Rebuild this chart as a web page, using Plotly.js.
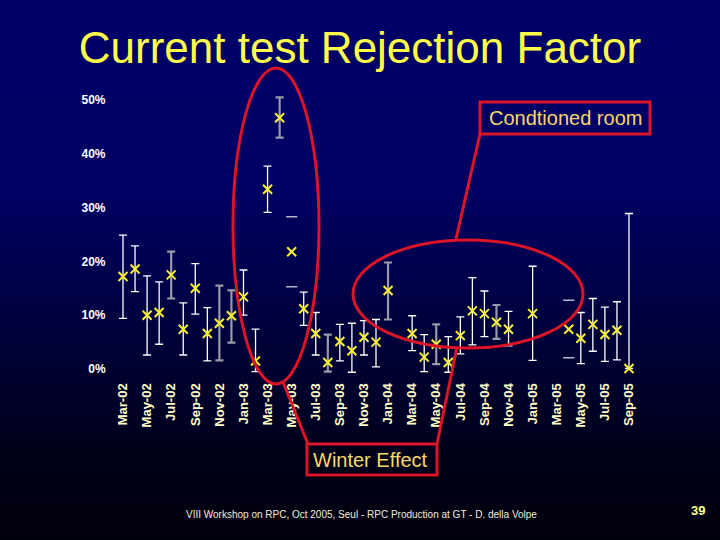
<!DOCTYPE html>
<html>
<head>
<meta charset="utf-8">
<script src="https://cdn.plot.ly/plotly-3.0.1.min.js"></script>
<style>
html, body { margin: 0; padding: 0; }
body {
  width: 720px; height: 540px; overflow: hidden;
  background: linear-gradient(to bottom, #000068 0%, #000064 35%, #00003a 62%, #000018 85%, #00000c 100%);
}
#chart { width: 720px; height: 540px; }
</style>
</head>
<body>
<div id="chart"></div>
<script>
// ---- Data ----
const allMonths = [
  "Mar-02","Apr-02","May-02","Jun-02","Jul-02","Aug-02","Sep-02","Oct-02","Nov-02","Dec-02",
  "Jan-03","Feb-03","Mar-03","Apr-03","May-03","Jun-03","Jul-03","Aug-03","Sep-03","Oct-03","Nov-03","Dec-03",
  "Jan-04","Feb-04","Mar-04","Apr-04","May-04","Jun-04","Jul-04","Aug-04","Sep-04","Oct-04","Nov-04","Dec-04",
  "Jan-05","Feb-05","Mar-05","Apr-05","May-05","Jun-05","Jul-05","Aug-05","Sep-05"
];
const tickLabels = [
  "Mar-02","May-02","Jul-02","Sep-02","Nov-02","Jan-03","Mar-03","May-03","Jul-03","Sep-03","Nov-03",
  "Jan-04","Mar-04","May-04","Jul-04","Sep-04","Nov-04","Jan-05","Mar-05","May-05","Jul-05","Sep-05"
];
const months = [
  "Mar-02","Apr-02","May-02","Jun-02","Jul-02","Aug-02","Sep-02","Oct-02","Nov-02","Dec-02",
  "Jan-03","Feb-03","Mar-03","Apr-03","May-03","Jun-03","Jul-03","Aug-03","Sep-03","Oct-03","Nov-03","Dec-03",
  "Jan-04","Mar-04","Apr-04","May-04","Jun-04","Jul-04","Aug-04","Sep-04","Oct-04","Nov-04",
  "Jan-05","Apr-05","May-05","Jun-05","Jul-05","Aug-05","Sep-05"
];
const rejection = [
  17.2,18.6,10.0,10.5,17.5,7.4,15.0,6.6,8.5,9.9,
  13.4,1.5,33.4,46.7,21.8,11.2,6.6,1.2,5.1,3.4,5.9,5.0,
  14.6,6.6,2.2,4.6,1.2,6.2,10.8,10.3,8.7,7.4,
  10.3,7.4,5.7,8.3,6.4,7.2,0.1
];
const upper = [
  24.9,22.9,17.3,16.2,21.8,12.3,19.6,11.4,15.5,14.6,
  18.4,7.4,37.7,50.5,28.3,14.3,10.5,6.4,8.3,8.5,9.0,9.2,
  19.8,9.9,6.4,8.3,6.0,9.7,17.0,14.5,11.9,10.7,
  19.1,12.8,10.5,13.1,11.5,12.5,28.9
];
const lower = [
  9.4,14.4,2.6,4.6,13.1,2.6,10.2,1.5,1.6,4.9,
  10.0,-0.5,29.1,43.0,15.3,8.1,2.6,-0.5,1.5,-0.6,2.6,0.4,
  9.2,3.4,-0.5,0.9,-0.6,2.8,4.5,6.0,5.6,4.3,
  1.6,2.1,1.0,3.3,1.4,1.7,0.1
];
const grayBarMonths = ["Jul-02","Nov-02","Dec-02","Apr-03","Aug-03","Jan-04","May-04","Oct-04"];
const capsOnlyMonths = ["May-03","Apr-05"];
const yTickVals = [0,10,20,30,40,50];
const yTickText = ["0%","10%","20%","30%","40%","50%"];

// ---- helpers ----
const W = 720, H = 540;
const px = x => x / W;
const py = y => 1 - y / H;

function subset(filterFn) {
  const x = [], y = [], ep = [], em = [];
  months.forEach((m, i) => {
    if (filterFn(m)) {
      x.push(m); y.push(rejection[i]);
      ep.push(upper[i] - rejection[i]); em.push(rejection[i] - lower[i]);
    }
  });
  return {x, y, ep, em};
}

const markerStyle = {symbol: 'x-thin-open', size: 9, color: '#f8f030', line: {color: '#f8f030', width: 2}};

const white = subset(m => !grayBarMonths.includes(m) && !capsOnlyMonths.includes(m));
const gray = subset(m => grayBarMonths.includes(m));
const capsOnly = subset(m => capsOnlyMonths.includes(m));

const capX = [], capY = [];
months.forEach((m, i) => {
  if (capsOnlyMonths.includes(m)) { capX.push(m, m); capY.push(upper[i], lower[i]); }
});

const traces = [
  {type: 'scatter', mode: 'markers', x: capX, y: capY, hoverinfo: 'skip',
   marker: {symbol: 'line-ew-open', size: 8, color: '#b8b8c8', line: {color: '#b8b8c8', width: 1.5}}},
  {type: 'scatter', mode: 'markers', x: white.x, y: white.y,
   error_y: {type: 'data', symmetric: false, array: white.ep, arrayminus: white.em, color: '#ffffff', thickness: 1.3, width: 4},
   marker: markerStyle},
  {type: 'scatter', mode: 'markers', x: gray.x, y: gray.y,
   error_y: {type: 'data', symmetric: false, array: gray.ep, arrayminus: gray.em, color: '#9a9aa8', thickness: 2.2, width: 4},
   marker: markerStyle},
  {type: 'scatter', mode: 'markers', x: capsOnly.x, y: capsOnly.y, marker: markerStyle}
];

const red = '#dc1428';
const layout = {
  width: W, height: H,
  margin: {l: 0, r: 0, t: 0, b: 0, autoexpand: false},
  paper_bgcolor: 'rgba(0,0,0,0)',
  plot_bgcolor: 'rgba(0,0,0,0)',
  showlegend: false,
  font: {family: 'Liberation Sans, Arial, sans-serif'},
  title: {
    text: 'Current test Rejection Factor',
    font: {family: 'Liberation Sans, Arial, sans-serif', size: 44, color: '#ffff4a'},
    x: 0.5, xanchor: 'center', xref: 'paper',
    y: py(48), yanchor: 'middle', yref: 'container'
  },
  xaxis: {
    type: 'category', categoryorder: 'array', categoryarray: allMonths,
    range: [-1, 43],
    domain: [px(110.95), px(641.05)],
    showgrid: false, zeroline: false, showline: false,
    tickmode: 'array', tickvals: tickLabels, ticktext: tickLabels,
    tickangle: -90, ticks: '', ticklen: 0,
    tickfont: {family: 'Liberation Sans, Arial, sans-serif', size: 13, color: '#ffffc8', weight: 'bold'}
  },
  yaxis: {
    range: [-2, 52],
    domain: [py(379.76), py(89.24)],
    showgrid: false, zeroline: false, showline: false,
    tickmode: 'array', tickvals: yTickVals, ticktext: yTickText,
    ticks: 'outside', ticklen: 2, tickcolor: 'rgba(0,0,0,0)',
    tickfont: {family: 'Liberation Sans, Arial, sans-serif', size: 12, color: '#ffffff', weight: 'bold'}
  },
  shapes: [
    {type: 'circle', xref: 'paper', yref: 'paper', x0: px(233), x1: px(319), y0: py(68), y1: py(384), line: {color: red, width: 3}},
    {type: 'circle', xref: 'paper', yref: 'paper', x0: px(353), x1: px(583), y0: py(240), y1: py(348), line: {color: red, width: 3}},
    {type: 'rect', xref: 'paper', yref: 'paper', x0: px(480), x1: px(650), y0: py(102), y1: py(134), line: {color: red, width: 3}},
    {type: 'rect', xref: 'paper', yref: 'paper', x0: px(307), x1: px(437), y0: py(444), y1: py(475), line: {color: red, width: 3}},
    {type: 'line', xref: 'paper', yref: 'paper', x0: px(480), y0: py(134), x1: px(456), y1: py(239), line: {color: red, width: 3}},
    {type: 'line', xref: 'paper', yref: 'paper', x0: px(283), y0: py(382), x1: px(308), y1: py(444), line: {color: red, width: 3}},
    {type: 'line', xref: 'paper', yref: 'paper', x0: px(437), y0: py(444), x1: px(457), y1: py(347), line: {color: red, width: 3}}
  ],
  annotations: [
    {xref: 'paper', yref: 'paper', x: px(565), y: py(118), xanchor: 'center', yanchor: 'middle', showarrow: false,
     text: 'Condtioned room', font: {family: 'Liberation Sans, Arial, sans-serif', size: 20, color: '#f8d868'}},
    {xref: 'paper', yref: 'paper', x: px(371), y: py(460), xanchor: 'center', yanchor: 'middle', showarrow: false,
     text: 'Winter Effect', font: {family: 'Liberation Sans, Arial, sans-serif', size: 20, color: '#f8d868'}},
    {xref: 'paper', yref: 'paper', x: px(361), y: py(514), xanchor: 'center', yanchor: 'middle', showarrow: false,
     text: 'VIII Workshop on RPC, Oct 2005, Seul - RPC Production at GT - D. della Volpe',
     font: {family: 'Liberation Sans, Arial, sans-serif', size: 10, color: '#eeeedd'}},
    {xref: 'paper', yref: 'paper', x: px(698), y: py(510), xanchor: 'center', yanchor: 'middle', showarrow: false,
     text: '<b>39</b>', font: {family: 'Liberation Sans, Arial, sans-serif', size: 13, color: '#ffff99'}}
  ]
};

Plotly.newPlot('chart', traces, layout, {displayModeBar: false, staticPlot: true});
</script>
</body>
</html>
